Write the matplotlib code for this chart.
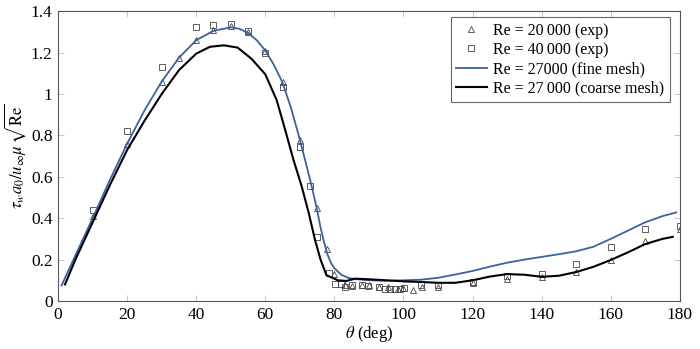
import matplotlib
matplotlib.use("Agg")
import matplotlib.pyplot as plt
import numpy as np

plt.rcParams['font.family'] = ['Liberation Serif', 'DejaVu Serif']
plt.rcParams['mathtext.fontset'] = 'stix'

# experimental data, Re = 20 000
exp20_theta = [10, 20, 30, 35, 40, 45, 50, 55, 60, 65, 70, 75, 78, 80, 83, 85,
               88, 90, 93, 95.5, 98.5, 100, 102.8, 105.5, 110, 120, 130, 140,
               150, 160, 170, 180]
exp20_tau = [0.41, 0.76, 1.06, 1.175, 1.26, 1.31, 1.33, 1.30, 1.21, 1.06, 0.78,
             0.45, 0.25, 0.13, 0.075, 0.072, 0.076, 0.076, 0.07, 0.066, 0.056,
             0.063, 0.053, 0.066, 0.07, 0.085, 0.105, 0.115, 0.14, 0.20, 0.29,
             0.35]

# experimental data, Re = 40 000
exp40_theta = [10, 20, 30, 40, 45, 50, 55, 60, 65, 70, 73, 75, 78.4, 80.2, 81.8,
               83.2, 85, 88, 89.8, 93, 94.6, 96, 97.5, 99, 100.1, 105, 110, 120,
               130, 140, 150, 160, 170, 180]
exp40_tau = [0.44, 0.82, 1.13, 1.325, 1.335, 1.34, 1.305, 1.20, 1.032, 0.745,
             0.556, 0.31, 0.134, 0.082, 0.082, 0.07, 0.077, 0.077, 0.074, 0.066,
             0.058, 0.056, 0.056, 0.057, 0.061, 0.075, 0.075, 0.09, 0.12, 0.13,
             0.18, 0.262, 0.35, 0.362]

# simulation, fine mesh
fine_theta = [1, 5, 10, 15, 20, 25, 30, 35, 40, 45, 50, 52.5, 55, 57.5, 60, 62.5,
              65, 67.5, 70, 72, 73.5, 75, 76, 77, 78, 79, 80, 82, 84, 86, 90, 95,
              100, 105, 110, 115, 120, 125, 130, 135, 140, 145, 150, 155, 160,
              165, 170, 175, 179]
fine_tau = [0.075, 0.22, 0.40, 0.585, 0.76, 0.92, 1.06, 1.175, 1.26, 1.305,
            1.322, 1.315, 1.295, 1.26, 1.21, 1.14, 1.055, 0.93, 0.78, 0.65,
            0.55, 0.44, 0.355, 0.285, 0.225, 0.185, 0.158, 0.127, 0.112, 0.106,
            0.10, 0.098, 0.10, 0.103, 0.112, 0.128, 0.145, 0.166, 0.185, 0.20,
            0.213, 0.226, 0.24, 0.262, 0.30, 0.34, 0.38, 0.41, 0.428]

# simulation, coarse mesh
coarse_theta = [2, 5, 10, 15, 20, 25, 30, 35, 40, 44, 48, 52, 56, 60, 63.3,
                65.7, 68.1, 70.5, 72.5, 74.4, 76, 77.7, 79, 81, 83.5, 86, 90, 95,
                100, 105, 110, 115, 120, 125, 130, 135, 140, 145, 150, 155, 160,
                165, 170, 175, 178]
coarse_tau = [0.08, 0.2, 0.38, 0.56, 0.73, 0.87, 1.0, 1.115, 1.195, 1.228,
              1.235, 1.224, 1.17, 1.095, 0.97, 0.83, 0.685, 0.556, 0.43, 0.295,
              0.2, 0.125, 0.115, 0.10, 0.097, 0.108, 0.105, 0.10, 0.095, 0.092,
              0.088, 0.088, 0.10, 0.118, 0.13, 0.127, 0.117, 0.122, 0.14, 0.165,
              0.198, 0.235, 0.275, 0.30, 0.31]

fig = plt.figure(figsize=(7.0, 3.49), dpi=100)
ax = fig.add_axes([0.083, 0.1375, 0.888, 0.8305])

ax.plot(exp20_theta, exp20_tau, linestyle='none', marker='^', markersize=4.4,
        mfc='none', mec='#444444', mew=0.6, label='Re = 20\u2009000 (exp)')
ax.plot(exp40_theta, exp40_tau, linestyle='none', marker='s', markersize=4.0,
        mfc='none', mec='#444444', mew=0.6, label='Re = 40\u2009000 (exp)')
ax.plot(fine_theta, fine_tau, color='#3a62a0', linewidth=1.3,
        label='Re = 27000 (fine mesh)')
ax.plot(coarse_theta, coarse_tau, color='black', linewidth=1.5,
        label='Re = 27\u2009000 (coarse mesh)')

ax.set_xlim(0, 180)
ax.set_ylim(0, 1.4)
ax.set_xticks(np.arange(0, 181, 20))
ax.set_yticks([0, 0.2, 0.4, 0.6, 0.8, 1.0, 1.2, 1.4])
ax.set_yticklabels(['0', '0.2', '0.4', '0.6', '0.8', '1', '1.2', '1.4'])
ax.tick_params(direction='in', top=True, right=True, length=4, width=0.6,
               color='#bbbbbb', labelsize=12.5, pad=4)
for s in ax.spines.values():
    s.set_color('#555555')
    s.set_linewidth(0.8)

ax.set_xlabel(r'$\theta$ (deg)', fontsize=12, labelpad=1)
ax.set_ylabel(r'$\tau_w a_0/u_\infty\mu\,\sqrt{\mathrm{Re}}$', fontsize=12,
              labelpad=2)

leg = ax.legend(loc='upper right', fontsize=11.5, frameon=True, fancybox=False,
                edgecolor='#666666', framealpha=1, handlelength=1.9,
                handletextpad=0.4, borderpad=0.35, labelspacing=0.2,
                borderaxespad=0, bbox_to_anchor=(0.984, 0.979))
leg.get_frame().set_linewidth(0.8)

fig.savefig('out.png', dpi=100)
